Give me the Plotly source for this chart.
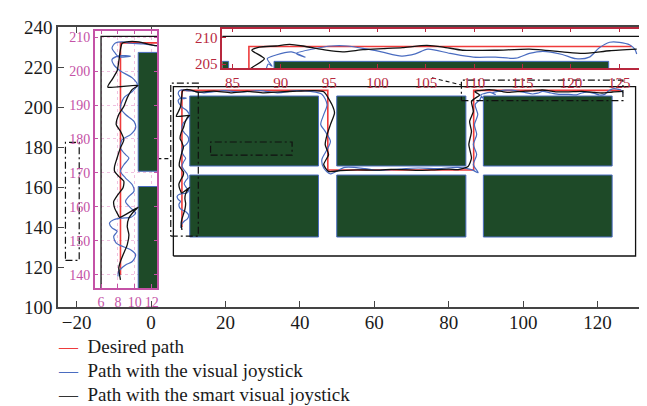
import plotly.graph_objects as go

# ---------------- data ----------------
red_x = [8.3, 8.3, 47.5, 47.5, 86.7, 86.7, 126.3]
red_y = [140.0, 208.3, 208.3, 168.5, 168.5, 208.3, 208.3]

black_x = [8.3, 8.1, 8.3, 8.7, 9.1, 9.3, 9.1, 9.3, 9.9, 10.4, 8.2, 8.0, 7.6, 7.5, 8.0, 8.6, 8.7, 8.1, 7.6, 7.6,
           7.9, 8.3, 8.7, 8.3, 7.8, 8.1, 8.7, 9.1, 9.7, 10.4, 6.8, 7.3, 7.9, 8.1, 8.3, 8.5, 9.3, 10.5,
           12.4, 16.9, 21.4, 25.8, 30.3, 34.8, 39.2, 43.7, 46.4,
           48.6, 49.3, 48.2, 47.3, 46.8, 47.7, 46.4, 47.7, 50.9,
           55.5, 60.1, 64.5, 69.0, 72.6, 76.2, 80.0, 82.5, 85.2,
           86.1, 85.4, 86.1, 85.6, 86.6, 86.1, 87.0, 88.3, 87.0, 87.8,
           89.5, 90.9, 92.3, 94.7, 96.4, 98.5, 100.6, 102.6, 105.1, 106.8, 108.8, 112.2, 115.7, 119.1,
           121.2, 124.0, 126.8]
black_y = [138.5, 142.0, 143.9, 146.4, 148.8, 151.8, 154.2, 156.7, 158.7, 159.9, 156.9, 157.7, 159.7, 161.6,
           163.6, 165.6, 167.5, 169.0, 170.5, 171.9,
           174.4, 177.4, 179.8, 182.3, 184.2, 187.2, 189.6, 192.1, 194.6, 195.8, 195.3, 197.5, 200.0, 202.9,
           206.4, 208.2, 208.7, 208.6,
           207.5, 207.9, 207.1, 207.8, 207.1, 207.6, 207.9, 208.2, 207.6,
           201.2, 197.0, 191.2, 186.2, 181.2, 176.2, 171.2, 167.8, 168.2,
           168.6, 168.4, 168.8, 168.6, 168.3, 168.6, 168.9, 168.7, 170.3,
           174.5, 181.2, 187.8, 192.8, 197.8, 202.8, 204.3, 206.0, 207.6, 208.2,
           208.4, 208.7, 208.4, 207.6, 207.3, 207.7, 207.9, 208.1, 208.5, 208.2, 207.6, 207.6, 207.8, 207.3,
           207.0, 207.5, 207.8]

blue_x = [8.0, 8.1, 8.9, 9.7, 10.1, 9.5, 8.4, 7.8, 7.5, 7.9, 7.3, 7.0, 7.5, 8.5, 9.5, 10.1, 9.5, 8.9, 9.3,
          9.9, 9.7, 8.9, 8.3, 8.7, 9.3, 8.9, 8.3, 8.5, 9.5, 10.1, 9.9, 8.9, 8.3, 8.7, 9.7, 10.3, 9.7, 8.3,
          7.5, 7.3, 8.1, 9.5, 8.1, 7.7, 7.3, 7.7, 8.6, 9.5, 11.0,
          14.2, 19.6, 24.0, 29.4, 33.9, 39.2, 42.8, 45.9,
          47.3, 46.4, 45.6, 46.8, 48.2, 47.3, 45.9, 46.4, 48.2,
          52.1, 57.5, 60.5, 64.6, 71.8, 77.1, 82.5, 86.1, 87.9,
          86.6, 87.5, 86.6, 87.5, 86.9, 87.8, 87.1,
          88.4, 88.7, 89.1, 88.6, 89.5, 91.1, 92.5, 91.6, 93.5, 95.2, 96.9, 98.7, 100.4, 102.5, 103.9,
          105.2, 107.5, 109.9, 112.2, 114.3, 115.7, 117.1, 119.1, 120.5, 121.9, 122.9, 124.0, 125.0,
          126.1, 126.6, 126.8]
blue_y = [139.5, 141.0, 142.9, 143.9, 145.9, 147.4, 148.5, 149.3, 151.3, 152.8, 153.8, 155.2, 156.2, 156.7,
          156.9, 158.2, 159.7, 161.6, 163.1,
          164.6, 166.5, 168.5, 170.5, 172.4, 174.4, 175.4, 177.4, 179.8, 181.3, 183.3, 185.2, 187.2, 189.2,
          192.1, 194.0, 196.0, 198.0, 200.0,
          201.9, 203.4, 204.5, 204.4, 204.2, 205.2, 206.8, 208.3, 208.6, 208.2, 208.0,
          207.1, 208.2, 207.5, 208.2, 207.1, 208.2, 207.8, 206.4,
          201.2, 196.2, 191.2, 187.8, 182.8, 178.7, 173.7, 169.5, 166.6,
          169.8, 169.2, 168.3, 168.7, 169.5, 169.2, 169.8, 168.7, 167.2,
          171.2, 176.2, 181.2, 186.2, 191.2, 196.2, 201.2,
          203.7, 205.0, 204.6, 206.0, 206.7, 207.3, 206.3, 207.0, 207.9, 208.4, 208.4, 207.9, 207.3, 206.5,
          206.9,
          207.8, 207.0, 206.3, 206.3, 206.1, 207.0, 207.4, 206.8, 206.0, 206.3, 208.0, 209.1, 209.1,
          208.6, 207.8, 206.9]

# obstacles (green blocks)
obst_x0 = [10.4, 49.9, 89.3, 10.4, 49.9, 89.3]
obst_x1 = [45.0, 84.6, 123.9, 45.0, 84.6, 123.9]
obst_y0 = [170.5, 170.5, 170.5, 135.0, 135.0, 135.0]
obst_y1 = [205.5, 205.5, 205.5, 166.0, 166.0, 166.0]

# environment boundary
env_x = [6.0, 130.2]
env_y = [125.5, 210.2]

# dash-dot boxes in the main plot
box_x0 = [5.3, -23.0, 16.0, 83.4]
box_x1 = [12.7, -19.3, 37.9, 126.8]
box_y0 = [135.4, 123.3, 175.9, 203.2]
box_y1 = [211.9, 182.3, 182.5, 213.4]

# dashed connectors
conn_x = [[1.7, 5.3], [75.5, 83.4]]
conn_y = [[174.2, 174.2], [214.6, 211.0]]

main_xticks = [-20, 0, 20, 40, 60, 80, 100, 120]
main_yticks = [100, 120, 140, 160, 180, 200, 220, 240]
left_xticks = [6, 8, 10, 12]
left_yticks = [140, 150, 160, 170, 180, 190, 200, 210]
top_xticks = [85, 90, 95, 100, 105, 110, 115, 120, 125]
top_yticks = [205, 210]

legend_names = ["Desired path", "Path with the visual joystick", "Path with the smart visual joystick"]

# ---------------- styles ----------------
RED = "#ee3b3b"
BLUE = "#4a6cc0"
BLACK = "#111111"
GREEN = "#1e4a28"
PINK = "#c452a6"
CRIMSON = "#b8283e"
FONT = "Liberation Serif"

fig = go.Figure()


def rect_poly(x0s, x1s, y0s, y1s):
    xs, ys = [], []
    for a, b, c, d in zip(x0s, x1s, y0s, y1s):
        xs += [a, b, b, a, a, None]
        ys += [c, c, d, d, c, None]
    return xs, ys


ox, oy = rect_poly(obst_x0, obst_x1, obst_y0, obst_y1)
ex, ey = rect_poly([env_x[0]], [env_x[1]], [env_y[0]], [env_y[1]])

for xa, ya in [("x", "y"), ("x2", "y2"), ("x3", "y3")]:
    fig.add_trace(go.Scatter(x=ex, y=ey, mode="lines", line=dict(color=BLACK, width=1.3),
                             xaxis=xa, yaxis=ya, showlegend=False, hoverinfo="skip"))
    fig.add_trace(go.Scatter(x=ox, y=oy, mode="lines", fill="toself", fillcolor=GREEN,
                             line=dict(color=BLUE, width=1), xaxis=xa, yaxis=ya,
                             showlegend=False, hoverinfo="skip"))
    fig.add_trace(go.Scatter(x=red_x, y=red_y, mode="lines", line=dict(color=RED, width=1.6),
                             xaxis=xa, yaxis=ya, showlegend=False, name=legend_names[0]))
    fig.add_trace(go.Scatter(x=blue_x, y=blue_y, mode="lines", line=dict(color=BLUE, width=1.2, shape="spline", smoothing=0.8),
                             xaxis=xa, yaxis=ya, showlegend=False, name=legend_names[1]))
    fig.add_trace(go.Scatter(x=black_x, y=black_y, mode="lines", line=dict(color=BLACK, width=1.3, shape="spline", smoothing=0.6),
                             xaxis=xa, yaxis=ya, showlegend=False, name=legend_names[2]))

bx, by = rect_poly(box_x0, box_x1, box_y0, box_y1)
fig.add_trace(go.Scatter(x=bx, y=by, mode="lines", line=dict(color=BLACK, width=1.2, dash="7px,3px,2px,3px"),
                         xaxis="x", yaxis="y", showlegend=False, hoverinfo="skip"))
for cx, cy in zip(conn_x, conn_y):
    fig.add_trace(go.Scatter(x=cx, y=cy, mode="lines", line=dict(color=BLACK, width=1.1, dash="4px,3px"),
                             xaxis="x", yaxis="y", showlegend=False, hoverinfo="skip"))

W, H = 647, 406
L, R, T, B = 50, 9, 19, 107
pw, ph = W - L - R, H - T - B


def dx(px):
    return (px - L) / pw


def dy(py):
    return 1 - (py - T) / ph


main_ax = dict(showline=True, linecolor="#444444", linewidth=1.6, mirror="ticks", ticks="inside",
               ticklen=6, tickwidth=1.3, tickcolor="#444444", showgrid=False, zeroline=False,
               automargin=False, tickfont=dict(family=FONT, size=19, color="#1a1a1a"))

fig.update_layout(
    width=W, height=H, margin=dict(l=L, r=R, t=T, b=B, autoexpand=False),
    paper_bgcolor="white", plot_bgcolor="white", showlegend=False,
    xaxis=dict(main_ax, range=[-25, 133], tickvals=main_xticks, domain=[0, 1], ticklabelstandoff=-3),
    yaxis=dict(main_ax, range=[100, 240], tickvals=main_yticks, domain=[0, 1]),
    xaxis2=dict(domain=[dx(86.7), dx(149.3)], anchor="y2", range=[5.25, 12.66], tickvals=left_xticks,
                showline=True, linecolor=PINK, linewidth=1.5, mirror="ticks", ticks="inside", ticklen=4,
                tickcolor=PINK, showgrid=True, gridcolor="#f0c0e0", griddash="dot", zeroline=False,
                automargin=False, tickfont=dict(family=FONT, size=14, color=PINK)),
    yaxis2=dict(domain=[dy(280), dy(22.7)], anchor="x2", range=[136.1, 211.9], tickvals=left_yticks,
                showline=True, linecolor=PINK, linewidth=1.5, mirror="ticks", ticks="inside", ticklen=4,
                tickcolor=PINK, showgrid=True, gridcolor="#f0c0e0", griddash="dot", zeroline=False,
                automargin=False, tickfont=dict(family=FONT, size=14, color=PINK)),
    xaxis3=dict(domain=[dx(214.3), dx(635)], anchor="y3", range=[83.95, 127.45], tickvals=top_xticks,
                showline=True, linecolor=CRIMSON, linewidth=1.5, mirror="ticks", ticks="inside", ticklen=4,
                tickcolor=CRIMSON, showgrid=False, zeroline=False,
                automargin=False, tickfont=dict(family=FONT, size=15, color=CRIMSON)),
    yaxis3=dict(domain=[dy(60), dy(20.7)], anchor="x3", range=[204.25, 211.66], tickvals=top_yticks,
                showline=True, linecolor=CRIMSON, linewidth=1.5, mirror="ticks", ticks="inside", ticklen=4,
                tickcolor=CRIMSON, showgrid=False, zeroline=False,
                automargin=False, tickfont=dict(family=FONT, size=15, color=CRIMSON)),
)

leg_colors = [RED, BLUE, "#333333"]
leg_y = [338, 362, 386]
for name, col, yy in zip(legend_names, leg_colors, leg_y):
    fig.add_annotation(xref="paper", yref="paper", x=dx(48), y=dy(yy), xanchor="left", yanchor="middle",
                       showarrow=False, align="left",
                       text=f"<span style='color:{col}'>—</span>  {name}",
                       font=dict(family=FONT, size=19, color="#1a1a1a"))

fig.write_html("out.html")
